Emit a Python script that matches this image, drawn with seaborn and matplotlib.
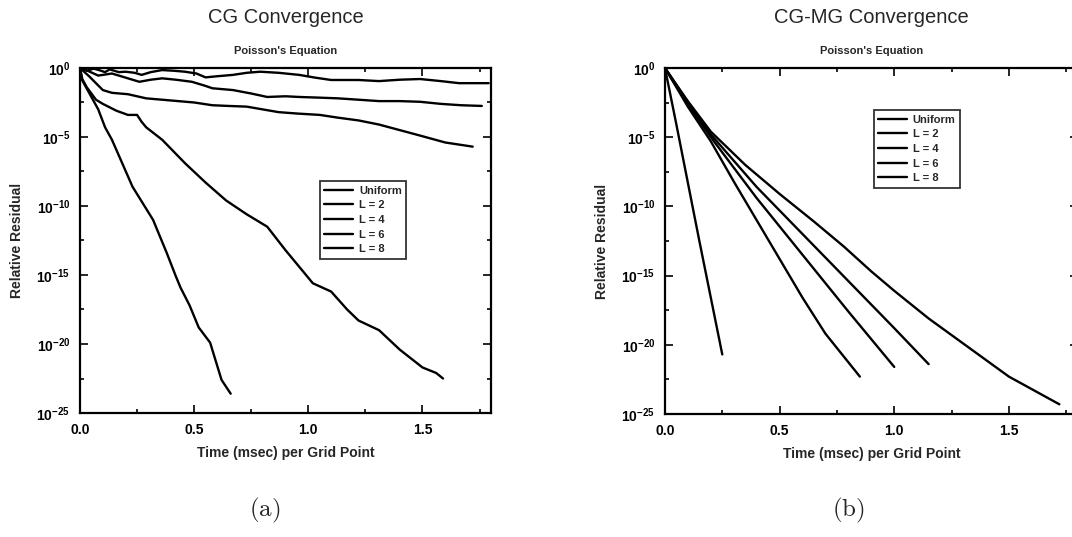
import numpy as np
import pandas as pd
import matplotlib
matplotlib.use("Agg")
import matplotlib.pyplot as plt
import seaborn as sns
from matplotlib.ticker import FixedLocator, FixedFormatter

# series names, same order in both panels
schemes = ["Uniform", "L = 2", "L = 4", "L = 6", "L = 8"]

# (a) CG convergence -- time in msec per grid point, residual as log10
cg_uniform_t = [0, 0.01, 0.04, 0.08, 0.11, 0.14, 0.23, 0.32, 0.38, 0.42, 0.44, 0.48, 0.52, 0.57, 0.62, 0.66]
cg_uniform_r = [0, -0.9, -1.8, -3.0, -4.3, -5.2, -8.6, -11.0, -13.4, -15.1, -15.9, -17.2, -18.8, -19.9, -22.6, -23.6]
cg_l2_t = [0, 0.01, 0.03, 0.07, 0.10, 0.16, 0.21, 0.25, 0.27, 0.29, 0.36, 0.46, 0.55, 0.64, 0.73, 0.82,
           0.90, 1.02, 1.06, 1.10, 1.17, 1.22, 1.31, 1.40, 1.50, 1.56, 1.59]
cg_l2_r = [0, -0.8, -1.4, -2.3, -2.6, -3.1, -3.4, -3.4, -3.9, -4.3, -5.2, -6.9, -8.3, -9.6, -10.6, -11.5,
           -13.2, -15.6, -15.9, -16.2, -17.5, -18.3, -19.0, -20.4, -21.7, -22.1, -22.5]
cg_l4_t = [0, 0.02, 0.04, 0.07, 0.10, 0.14, 0.21, 0.29, 0.36, 0.43, 0.50, 0.58, 0.65, 0.73, 0.80, 0.87,
           0.95, 1.05, 1.13, 1.22, 1.31, 1.40, 1.49, 1.60, 1.72]
cg_l4_r = [0, -0.3, -0.6, -1.1, -1.6, -1.8, -1.9, -2.2, -2.3, -2.4, -2.5, -2.7, -2.75, -2.8, -3.0, -3.2,
           -3.3, -3.4, -3.6, -3.8, -4.1, -4.5, -4.9, -5.4, -5.7]
cg_l6_t = [0, 0.02, 0.04, 0.06, 0.08, 0.10, 0.14, 0.20, 0.26, 0.31, 0.36, 0.42, 0.49, 0.55, 0.58, 0.67,
           0.75, 0.82, 0.90, 0.96, 1.05, 1.13, 1.22, 1.31, 1.40, 1.49, 1.58, 1.67, 1.76]
cg_l6_r = [0, -0.1, -0.25, -0.4, -0.55, -0.5, -0.4, -0.7, -1.0, -0.85, -0.75, -0.85, -1.0, -1.3, -1.47, -1.6,
           -1.85, -2.1, -2.05, -2.1, -2.15, -2.2, -2.3, -2.4, -2.4, -2.45, -2.6, -2.7, -2.75]
cg_l8_t = [0, 0.03, 0.06, 0.083, 0.11, 0.13, 0.17, 0.20, 0.24, 0.27, 0.31, 0.36, 0.41, 0.46, 0.51, 0.55,
           0.60, 0.67, 0.73, 0.79, 0.87, 0.96, 1.03, 1.10, 1.22, 1.31, 1.40, 1.49, 1.58, 1.66, 1.79]
cg_l8_r = [0, -0.2, -0.05, -0.15, -0.3, -0.1, -0.3, -0.27, -0.35, -0.5, -0.3, -0.15, -0.2, -0.27, -0.4, -0.68,
           -0.6, -0.5, -0.35, -0.27, -0.35, -0.5, -0.7, -0.87, -0.87, -0.95, -0.85, -0.8, -0.95, -1.1, -1.1]

# (b) CG-MG convergence
mg_uniform_t = [0, 0.05, 0.10, 0.15, 0.20, 0.25]
mg_uniform_r = [0, -4.1, -8.3, -12.5, -16.6, -20.7]
mg_l2_t = [0, 0.1, 0.2, 0.3, 0.4, 0.5, 0.6, 0.7, 0.85]
mg_l2_r = [0, -2.8, -5.3, -8.2, -11.0, -13.8, -16.6, -19.2, -22.3]
mg_l4_t = [0, 0.1, 0.2, 0.4, 0.6, 0.8, 1.0]
mg_l4_r = [0, -2.6, -5.0, -9.4, -13.5, -17.6, -21.6]
mg_l6_t = [0, 0.1, 0.2, 0.4, 0.6, 0.8, 1.0, 1.15]
mg_l6_r = [0, -2.5, -4.8, -8.6, -12.0, -15.4, -18.8, -21.4]
mg_l8_t = [0, 0.1, 0.2, 0.35, 0.5, 0.65, 0.78, 0.9, 1.0, 1.15, 1.3, 1.5, 1.72]
mg_l8_r = [0, -2.4, -4.6, -7.0, -9.1, -11.1, -12.9, -14.7, -16.1, -18.1, -19.9, -22.3, -24.3]

xtick_vals = [0.0, 0.5, 1.0, 1.5]
xtick_labels = ["0.0", "0.5", "1.0", "1.5"]
ytick_exps = [0, -5, -10, -15, -20, -25]
ytick_labels = ["$10^{0}$", "$10^{-5}$", "$10^{-10}$", "$10^{-15}$", "$10^{-20}$", "$10^{-25}$"]


def make_frame(ts, rs):
    rows = []
    for name, t, r in zip(schemes, ts, rs):
        for a, b in zip(t, r):
            rows.append((name, a, 10.0 ** b))
    return pd.DataFrame(rows, columns=["scheme", "time", "residual"])


cg_df = make_frame([cg_uniform_t, cg_l2_t, cg_l4_t, cg_l6_t, cg_l8_t],
                   [cg_uniform_r, cg_l2_r, cg_l4_r, cg_l6_r, cg_l8_r])
mg_df = make_frame([mg_uniform_t, mg_l2_t, mg_l4_t, mg_l6_t, mg_l8_t],
                   [mg_uniform_r, mg_l2_r, mg_l4_r, mg_l6_r, mg_l8_r])

sns.set_style("ticks")
plt.rcParams['font.family'] = ['Liberation Sans', 'DejaVu Sans']
plt.rcParams['mathtext.fontset'] = 'custom'
plt.rcParams['mathtext.rm'] = 'Liberation Sans:bold'
plt.rcParams['mathtext.it'] = 'Liberation Sans:bold'
plt.rcParams['mathtext.bf'] = 'Liberation Sans:bold'

fig = plt.figure(figsize=(10.72, 5.37), dpi=100)
ax_a = fig.add_axes([0.0746, 0.2309, 0.3834, 0.6425])
# right panel runs a little past the page edge, like the scan
ax_b = fig.add_axes([0.6203, 0.2291, 0.3850, 0.6443])

panels = [
    (ax_a, cg_df, "CG Convergence", (0.584, 0.672), r"$\mathrm{(a)}$", 265),
    (ax_b, mg_df, "CG-MG Convergence", (0.506, 0.878), r"$\mathrm{(b)}$", 848),
]

for ax, df, title, leg_pos, tag, tag_x in panels:
    sns.lineplot(data=df, x="time", y="residual", hue="scheme", hue_order=schemes,
                 palette=["black"] * 5, estimator=None, sort=False, linewidth=1.7, ax=ax)
    ax.set_yscale("log")
    ax.set_xlim(0, 1.8)
    ax.set_ylim(1e-25, 1e0)
    ax.yaxis.set_major_locator(FixedLocator([10.0 ** e for e in ytick_exps]))
    ax.yaxis.set_major_formatter(FixedFormatter(ytick_labels))
    ax.yaxis.set_minor_locator(FixedLocator([10.0 ** (e - 2.5) for e in ytick_exps[:-1]]))
    ax.xaxis.set_major_locator(FixedLocator(xtick_vals))
    ax.xaxis.set_major_formatter(FixedFormatter(xtick_labels))
    ax.xaxis.set_minor_locator(FixedLocator([0.25, 0.75, 1.25, 1.75]))
    ax.tick_params(which="both", direction="in", top=True, right=True, width=1.2, colors="black")
    ax.tick_params(which="major", length=6, labelsize=10, pad=7)
    ax.tick_params(which="minor", length=3)
    for lab in ax.get_xticklabels():
        lab.set_fontweight("bold")
    for sp in ax.spines.values():
        sp.set_linewidth(1.6)
        sp.set_color("black")
    ax.set_xlabel("Time (msec) per Grid Point", fontsize=10, fontweight="bold")
    ax.set_ylabel("Relative Residual", fontsize=10, fontweight="bold")
    ax.yaxis.set_label_coords(-0.135, 0.5)
    ax.xaxis.set_label_coords(0.5, -0.095)
    ax.set_title("Poisson's Equation", fontsize=8, fontweight="bold", pad=10)
    ax.text(0.5, 1.145, title, transform=ax.transAxes, ha="center", va="center", fontsize=14.5)
    handles, labels = ax.get_legend_handles_labels()
    leg = ax.legend(handles, labels, loc="upper left", bbox_to_anchor=leg_pos, borderaxespad=0,
                    frameon=True, fancybox=False, edgecolor="black", handlelength=2.6,
                    handletextpad=0.5, labelspacing=0.42, borderpad=0.4,
                    prop={"size": 8, "weight": "bold"})
    leg.get_frame().set_linewidth(1.3)
    fig.text(tag_x / 1072, 1 - 510 / 537, tag, ha="center", va="center",
             fontsize=18, math_fontfamily="cm")

fig.savefig("out.png", dpi=100)
